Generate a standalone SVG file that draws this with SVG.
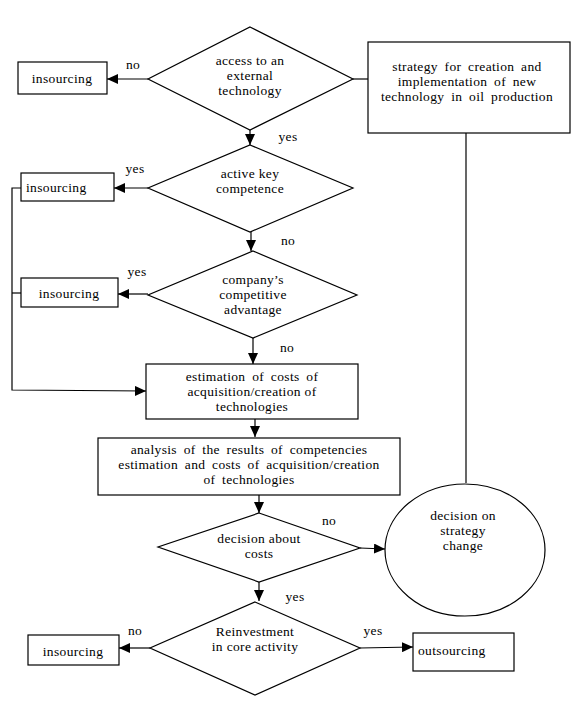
<svg xmlns="http://www.w3.org/2000/svg" width="586" height="703" viewBox="0 0 586 703">
<style>
.s{fill:#fff;stroke:#000;stroke-width:1.2}
.c{fill:none;stroke:#000;stroke-width:1.2}
text{font-family:"Liberation Serif","Times New Roman",serif;font-size:13.5px;letter-spacing:0.35px;fill:#000}
.m{text-anchor:middle}
.w{word-spacing:3px}
</style>
<defs>
<marker id="a" markerUnits="userSpaceOnUse" markerWidth="11" markerHeight="10" refX="11" refY="5" orient="auto">
<path d="M0,0 L11,5 L0,10 z" fill="#000"/>
</marker>
</defs>
<rect width="586" height="703" fill="#fff"/>
<g id="connectors">
<path class="c" d="M148,79 L107,79" marker-end="url(#a)"/>
<path class="c" d="M353,79 L368,79"/>
<path class="c" d="M250,130 L250,145" marker-end="url(#a)"/>
<path class="c" d="M148,188 L114,188" marker-end="url(#a)"/>
<path class="c" d="M251,232 L251,251" marker-end="url(#a)"/>
<path class="c" d="M148,294 L118,294" marker-end="url(#a)"/>
<path class="c" d="M253,338 L253,364" marker-end="url(#a)"/>
<path class="c" d="M25,188 L12,188 L12,390 L146,391" marker-end="url(#a)"/>
<path class="c" d="M12,293 L21,293"/>
<path class="c" d="M255,419 L255,437" marker-end="url(#a)"/>
<path class="c" d="M259,495 L259,513" marker-end="url(#a)"/>
<path class="c" d="M360,548 L385,549" marker-end="url(#a)"/>
<path class="c" d="M466,133 L466,483"/>
<path class="c" d="M259,582 L259,601" marker-end="url(#a)"/>
<path class="c" d="M150,648 L119,648" marker-end="url(#a)"/>
<path class="c" d="M360,648 L413,647" marker-end="url(#a)"/>
</g>
<g id="labels">
<text x="133" y="69" class="m">no</text>
<text x="288" y="141" class="m">yes</text>
<text x="135" y="173" class="m">yes</text>
<text x="288" y="245" class="m">no</text>
<text x="137" y="276" class="m">yes</text>
<text x="287" y="352" class="m">no</text>
<text x="329" y="525" class="m">no</text>
<text x="295" y="601" class="m">yes</text>
<text x="135" y="635" class="m">no</text>
<text x="373" y="635" class="m">yes</text>
</g>
<g id="d1">
<polygon class="s" points="250,27 353,79 250,130 148,79"/>
<text class="m"><tspan x="250" y="65">access to an</tspan><tspan x="250" y="80">external</tspan><tspan x="250" y="95">technology</tspan></text>
</g>
<g id="ins1">
<rect class="s" x="18" y="62" width="89" height="32"/>
<text x="62" y="83" class="m">insourcing</text>
</g>
<g id="strategy">
<rect class="s" x="368" y="42" width="202" height="91"/>
<text class="m w"><tspan x="467" y="71">strategy for creation and</tspan><tspan x="467" y="86">implementation of new</tspan><tspan x="467" y="101">technology in oil production</tspan></text>
</g>
<g id="d2">
<polygon class="s" points="250,145 353,188 250,232 148,188"/>
<text class="m"><tspan x="250" y="178">active key</tspan><tspan x="250" y="193">competence</tspan></text>
</g>
<g id="ins2">
<rect class="s" x="21" y="173" width="93" height="28"/>
<text x="26" y="192">insourcing</text>
</g>
<g id="d3">
<polygon class="s" points="253,251 357,295 253,338 148,295"/>
<text class="m"><tspan x="253" y="284">company’s</tspan><tspan x="253" y="299">competitive</tspan><tspan x="253" y="314">advantage</tspan></text>
</g>
<g id="ins3">
<rect class="s" x="21" y="278" width="97" height="29"/>
<text x="69" y="298" class="m">insourcing</text>
</g>
<g id="estimation">
<rect class="s" x="146" y="364" width="212" height="55"/>
<text class="m"><tspan x="252" y="381" class="w">estimation of costs of</tspan><tspan x="252" y="396">acquisition/creation of</tspan><tspan x="252" y="411">technologies</tspan></text>
</g>
<g id="analysis">
<rect class="s" x="98" y="438" width="302" height="57"/>
<text class="m w"><tspan x="249" y="454">analysis of the results of competencies</tspan><tspan x="249" y="469">estimation and costs of acquisition/creation</tspan><tspan x="249" y="484">of technologies</tspan></text>
</g>
<g id="d4">
<polygon class="s" points="259,513 360,548 259,582 158,547"/>
<text class="m"><tspan x="259" y="543">decision about</tspan><tspan x="259" y="558">costs</tspan></text>
</g>
<g id="circle">
<ellipse class="s" cx="465" cy="550" rx="80" ry="66"/>
<text class="m"><tspan x="463" y="520">decision on</tspan><tspan x="463" y="535">strategy</tspan><tspan x="463" y="550">change</tspan></text>
</g>
<g id="d5">
<polygon class="s" points="255,602 360,648 255,695 150,648"/>
<text class="m"><tspan x="255" y="636">Reinvestment</tspan><tspan x="255" y="651">in core activity</tspan></text>
</g>
<g id="ins4">
<rect class="s" x="28" y="635" width="91" height="30"/>
<text x="73" y="656" class="m">insourcing</text>
</g>
<g id="outsourcing">
<rect class="s" x="413" y="633" width="101" height="38"/>
<text x="418" y="655">outsourcing</text>
</g>
</svg>
